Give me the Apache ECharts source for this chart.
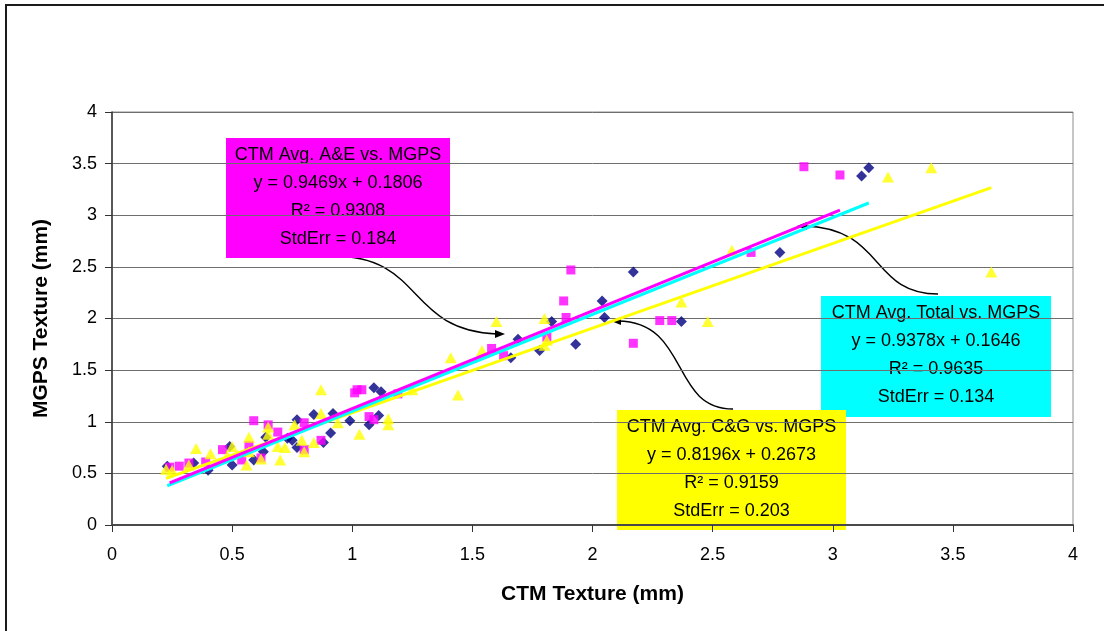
<!DOCTYPE html>
<html>
<head>
<meta charset="utf-8">
<script src="https://cdn.jsdelivr.net/npm/echarts@6/dist/echarts.min.js"></script>
<style>
  html, body { margin: 0; padding: 0; background: #fff; }
  #chart { width: 1104px; height: 631px; }
</style>
</head>
<body>
<div id="chart"></div>
<script>
// CTM Avg. Total vs. MGPS  (x = CTM, y = MGPS), mm
const totalPoints = [
  [0.23,0.57],[0.34,0.60],[0.40,0.53],[0.49,0.76],[0.50,0.58],[0.59,0.63],[0.63,0.71],
  [0.64,0.85],[0.73,0.84],[0.75,0.82],[0.77,1.02],[0.77,0.75],[0.84,1.07],[0.88,0.80],
  [0.91,0.89],[0.92,1.08],[0.99,1.01],[1.07,0.97],[1.09,1.33],[1.11,1.06],[1.12,1.29],
  [1.66,1.62],[1.69,1.80],[1.78,1.69],[1.83,1.97],[1.93,1.75],[2.04,2.17],[2.05,2.01],
  [2.17,2.45],[2.37,1.97],[2.78,2.64],[3.12,3.38],[3.15,3.46]
];
// CTM Avg. A&E vs. MGPS
const aePoints = [
  [0.24,0.56],[0.28,0.57],[0.32,0.60],[0.39,0.61],[0.46,0.73],[0.54,0.63],[0.57,0.77],
  [0.59,1.01],[0.62,0.65],[0.65,0.97],[0.69,0.90],[0.80,0.73],[0.80,0.99],[0.87,0.82],
  [1.01,1.28],[1.02,1.31],[1.04,1.31],[1.07,1.05],[1.09,1.02],[1.19,1.27],[1.58,1.71],
  [1.63,1.64],[1.81,1.82],[1.88,2.17],[1.89,2.01],[1.91,2.47],[2.17,1.76],[2.28,1.98],
  [2.33,1.98],[2.66,2.64],[2.88,3.47],[3.03,3.39]
];
// CTM Avg. C&G vs. MGPS
const cgPoints = [
  [0.225,0.54],[0.25,0.53],[0.32,0.58],[0.35,0.74],[0.41,0.69],[0.48,0.67],[0.50,0.76],
  [0.56,0.58],[0.57,0.85],[0.57,0.71],[0.62,0.64],[0.65,0.95],[0.65,0.88],[0.69,0.76],
  [0.70,0.63],[0.72,0.75],[0.76,0.97],[0.79,0.82],[0.80,0.71],[0.84,0.80],[0.87,1.31],
  [0.87,1.08],[0.94,0.99],[1.03,0.88],[1.15,1.03],[1.15,0.97],[1.25,1.31],[1.41,1.62],
  [1.44,1.26],[1.54,1.69],[1.60,1.97],[1.80,1.74],[1.80,2.00],[1.81,1.79],[2.37,2.16],
  [2.48,1.97],[2.58,2.66],[3.23,3.37],[3.41,3.46],[3.66,2.45]
];

// Linear fits: [slope, intercept, R^2, StdErr]
const totalFit = [0.9378, 0.1646, 0.9635, 0.134];
const aeFit    = [0.9469, 0.1806, 0.9308, 0.184];
const cgFit    = [0.8196, 0.2673, 0.9159, 0.203];

const seriesNames = ['CTM Avg. Total vs. MGPS', 'CTM Avg. A&E vs. MGPS', 'CTM Avg. C&G vs. MGPS'];
const axisTicks = ['0', '0.5', '1', '1.5', '2', '2.5', '3', '3.5', '4'];

function fitLine(points, fit) {
  const xs = points.map(p => p[0]);
  const lo = Math.min(...xs), hi = Math.max(...xs);
  return [[lo, fit[0] * lo + fit[1]], [hi, fit[0] * hi + fit[1]]];
}
function fitText(name, fit) {
  return name + '\ny = ' + fit[0].toFixed(4) + 'x + ' + fit[1].toFixed(4) +
    '\nR\u00B2 = ' + fit[2].toFixed(4) + '\nStdErr = ' + fit[3].toFixed(3);
}

const FONT = '"Liberation Sans", Arial, sans-serif';
const chart = echarts.init(document.getElementById('chart'), null, { renderer: 'canvas' });

function box(x, y, w, h, color, text) {
  return {
    type: 'group', z: 100,
    children: [
      { type: 'rect', shape: { x: x, y: y, width: w, height: h }, style: { fill: color } },
      { type: 'text', x: x + w / 2, y: y + h / 2 - 1,
        style: { text: text, fill: '#000', font: '18px ' + FONT, align: 'center',
                 verticalAlign: 'middle', lineHeight: 28 } }
    ]
  };
}
function arrow(x1, y1, c1x, c1y, c2x, c2y, x2, y2, head) {
  return {
    type: 'group', z: 99,
    children: [
      { type: 'bezierCurve',
        shape: { x1: x1, y1: y1, cpx1: c1x, cpy1: c1y, cpx2: c2x, cpy2: c2y, x2: x2, y2: y2 },
        style: { stroke: '#000', lineWidth: 1.4, fill: null } },
      { type: 'polygon', shape: { points: head }, style: { fill: '#000' } }
    ]
  };
}

const option = {
  backgroundColor: '#fff',
  animation: false,
  grid: { left: 112, top: 112, right: 31, bottom: 106, show: true, borderColor: '#8c8c8c', borderWidth: 1 },
  xAxis: {
    type: 'value', min: 0, max: 4, interval: 0.5,
    name: 'CTM Texture (mm)', nameLocation: 'middle', nameGap: 59,
    nameTextStyle: { fontFamily: FONT, fontSize: 21, fontWeight: 'bold', color: '#000' },
    axisLine: { show: true, onZero: false, lineStyle: { color: '#4a4a4a', width: 2 } },
    axisTick: { show: true, inside: false, length: 7, lineStyle: { color: '#333' } },
    axisLabel: { fontFamily: FONT, fontSize: 18, color: '#000', margin: 21,
                 formatter: v => axisTicks[Math.round(v * 2)] },
    splitLine: { show: false }
  },
  yAxis: {
    type: 'value', min: 0, max: 4, interval: 0.5,
    name: 'MGPS Texture (mm)', nameLocation: 'middle', nameGap: 60, nameRotate: 90,
    nameTextStyle: { fontFamily: FONT, fontSize: 21, fontWeight: 'bold', color: '#000' },
    axisLine: { show: true, onZero: false, lineStyle: { color: '#333', width: 1.5 } },
    axisTick: { show: true, inside: false, length: 7, lineStyle: { color: '#333' } },
    axisLabel: { fontFamily: FONT, fontSize: 18, color: '#000', margin: 15,
                 formatter: v => axisTicks[Math.round(v * 2)] },
    splitLine: { show: true, lineStyle: { color: '#6e6e6e', width: 1 } }
  },
  series: [
    { name: seriesNames[0], type: 'scatter', data: totalPoints, symbol: 'diamond',
      symbolSize: [11, 11], itemStyle: { color: '#000080' }, z: 3 },
    { name: seriesNames[1], type: 'scatter', data: aePoints, symbol: 'rect',
      symbolSize: 9, itemStyle: { color: '#ff00ff' }, z: 4 },
    { name: seriesNames[2], type: 'scatter', data: cgPoints, symbol: 'triangle',
      symbolSize: [12, 11], itemStyle: { color: '#ffff00' }, z: 5 },
    { type: 'line', data: fitLine(cgPoints, cgFit), symbol: 'none', z: 10,
      lineStyle: { color: '#ffff00', width: 3 } },
    { type: 'line', data: fitLine(totalPoints, totalFit), symbol: 'none', z: 11,
      lineStyle: { color: '#00ffff', width: 3 } },
    { type: 'line', data: fitLine(aePoints, aeFit), symbol: 'none', z: 12,
      lineStyle: { color: '#ff00ff', width: 3 } }
  ],
  graphic: [
    { type: 'rect', z: 0, silent: true,
      shape: { x: 6, y: 5, width: 1200, height: 700 },
      style: { fill: null, stroke: '#1a1a1a', lineWidth: 2 } },
    arrow(333, 256, 425, 256, 405, 330, 497, 334, [[505, 334], [495, 330], [495, 338]]),
    arrow(733, 409, 670, 409, 690, 322, 618, 321, [[611, 321], [621, 317], [621, 325]]),
    arrow(938, 294, 870, 294, 885, 228, 804, 226, [[797, 226], [807, 222], [807, 230]]),
    box(226, 138, 224, 120, '#ff00ff', fitText(seriesNames[1], aeFit)),
    box(821, 296, 230, 121, '#00ffff', fitText(seriesNames[0], totalFit)),
    box(617, 410, 229, 120, '#ffff00', fitText(seriesNames[2], cgFit))
  ]
};
chart.setOption(option);
</script>
</body>
</html>
